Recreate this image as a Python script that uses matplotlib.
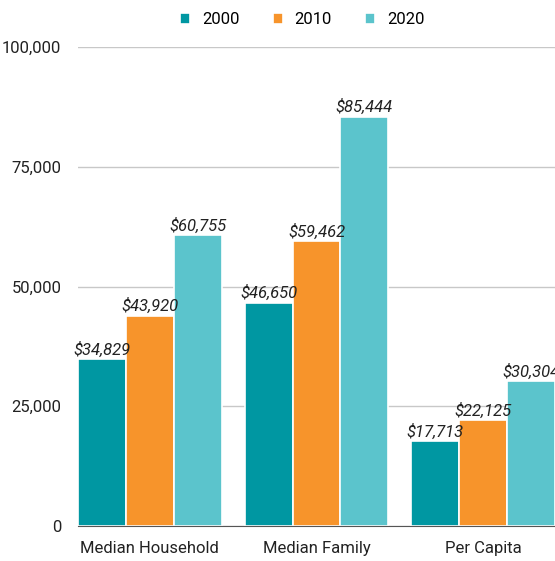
import matplotlib
matplotlib.use("Agg")
import matplotlib.pyplot as plt
import numpy as np

categories = ["Median Household", "Median Family", "Per Capita"]
years = ["2000", "2010", "2020"]
values_2000 = [34829, 46650, 17713]
values_2010 = [43920, 59462, 22125]
values_2020 = [60755, 85444, 30304]
colors = ["#0097A2", "#F7942B", "#5BC4CC"]

plt.rcParams['font.family'] = ['Roboto', 'DejaVu Sans']

fig = plt.figure(figsize=(5.55, 5.61), dpi=100)
ax = fig.add_axes([78/555, 1-526/561, 1-78/555, (526-47)/561])

x = np.arange(len(categories))
w = 0.287
series = [values_2000, values_2010, values_2020]
for i, (yr, vals, c) in enumerate(zip(years, series, colors)):
    pos = x + (i - 1) * w
    ax.bar(pos, vals, width=w, color=c, edgecolor="white", linewidth=1.2,
           label=yr, zorder=3)
    for xp, v in zip(pos, vals):
        ax.text(xp, v + 300, f"${v:,}", ha="center", va="bottom",
                fontsize=12, style="italic", color="#222222", zorder=4)

ax.set_xlim(-0.43, 2.43)
ax.set_ylim(0, 100000)
ax.set_yticks([0, 25000, 50000, 75000, 100000])
ax.set_yticklabels(["0", "25,000", "50,000", "75,000", "100,000"])
ax.set_xticks(x)
ax.set_xticklabels(categories)
ax.tick_params(axis="both", length=0, labelsize=12, colors="#222222")
ax.tick_params(axis="y", pad=12)
ax.tick_params(axis="x", pad=11)
ax.grid(axis="y", color="#C8C8C8", linewidth=1, zorder=0)
for s in ["top", "right", "left"]:
    ax.spines[s].set_visible(False)
ax.spines["bottom"].set_color("#555555")
ax.spines["bottom"].set_zorder(5)

handles, labels = ax.get_legend_handles_labels()
fig.legend(handles, labels, loc="upper center", bbox_to_anchor=(0.545, 1.005), ncol=3,
           frameon=False, fontsize=12, handlelength=0.6, handleheight=0.6,
           columnspacing=2.0, handletextpad=0.7)

fig.savefig("out.png", dpi=100)
